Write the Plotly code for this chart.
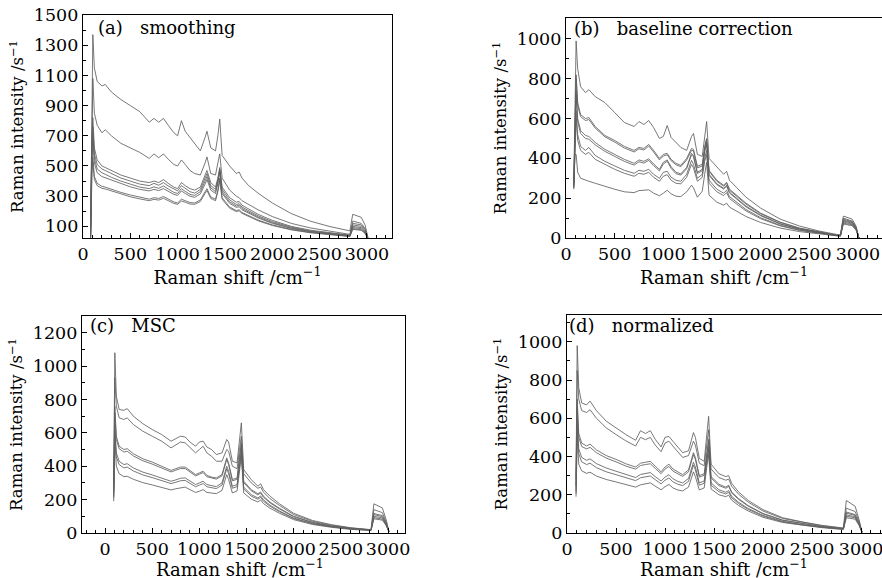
import plotly.graph_objects as go

# Raman shift grid shared by every spectrum (cm^-1)
shift = [80, 92, 104, 120, 150, 200, 235, 300, 400, 500,
         600, 700, 750, 800, 850, 900, 960, 1000, 1040, 1080,
         1130, 1180, 1240, 1290, 1310, 1350, 1400, 1425, 1445, 1470,
         1550, 1620, 1650, 1680, 1750, 1850, 2000, 2200, 2400, 2600,
         2780, 2820, 2850, 2880, 2940, 2980, 3010]

# (a) smoothing
smooth_1 = [40, 900, 1370, 1150, 1060, 1030, 1040, 990, 940, 900,
            860, 790, 815, 790, 815, 770, 720, 700, 800, 730,
            690, 650, 600, 690, 730, 620, 600, 700, 810, 570,
            500, 450, 460, 420, 370, 320, 255, 185, 135, 100,
            75, 70, 180, 175, 160, 110, 30]
smooth_2 = [35, 700, 1080, 850, 770, 720, 740, 700, 650, 620,
            590, 550, 580, 555, 580, 545, 510, 500, 540, 510,
            470, 450, 440, 520, 560, 450, 440, 520, 580, 420,
            340, 300, 290, 270, 245, 210, 165, 120, 90, 68,
            50, 47, 135, 130, 120, 85, 25]
smooth_3 = [30, 650, 820, 620, 540, 500, 490, 470, 440, 420,
            400, 390, 400, 390, 410, 385, 360, 350, 390, 370,
            350, 340, 360, 440, 470, 390, 360, 420, 490, 360,
            290, 260, 265, 240, 215, 180, 140, 100, 75, 58,
            45, 42, 120, 118, 110, 80, 25]
smooth_4 = [28, 600, 760, 580, 510, 480, 470, 450, 420, 400,
            380, 370, 385, 372, 390, 368, 345, 335, 370, 350,
            330, 320, 345, 420, 450, 370, 345, 410, 480, 345,
            275, 245, 250, 228, 205, 170, 132, 95, 70, 55,
            42, 40, 110, 108, 100, 72, 24]
smooth_5 = [27, 560, 720, 550, 480, 455, 445, 425, 400, 380,
            360, 350, 362, 352, 368, 348, 325, 318, 350, 332,
            312, 305, 330, 400, 430, 355, 330, 395, 470, 330,
            262, 235, 240, 218, 195, 162, 125, 90, 67, 52,
            40, 38, 100, 98, 92, 66, 23]
smooth_6 = [26, 520, 690, 520, 455, 430, 422, 405, 380, 362,
            345, 335, 345, 337, 350, 332, 312, 305, 335, 318,
            300, 292, 315, 380, 410, 340, 318, 385, 460, 318,
            252, 226, 230, 210, 188, 156, 120, 86, 64, 50,
            38, 36, 92, 90, 85, 62, 22]
smooth_7 = [25, 480, 560, 430, 385, 365, 360, 345, 325, 308,
            292, 280, 290, 285, 298, 282, 262, 255, 280, 270,
            258, 255, 275, 330, 350, 295, 280, 340, 420, 290,
            228, 205, 210, 192, 172, 142, 110, 80, 60, 47,
            36, 34, 85, 84, 78, 57, 21]
smooth_8 = [24, 450, 530, 410, 370, 352, 348, 335, 312, 296,
            282, 270, 279, 274, 286, 271, 252, 246, 268, 260,
            248, 246, 265, 318, 338, 285, 270, 330, 405, 280,
            220, 198, 203, 186, 166, 137, 106, 77, 58, 45,
            35, 33, 80, 79, 74, 54, 20]

# (b) baseline correction
base_1 = [280, 700, 990, 850, 760, 730, 745, 710, 680, 630,
          580, 560, 585, 570, 590, 555, 500, 510, 565, 505,
          480, 455, 440, 510, 525, 420, 410, 500, 585, 400,
          360, 320, 335, 290, 255, 205, 150, 95, 60, 35,
          18, 16, 110, 105, 95, 60, 0]
base_2 = [270, 600, 820, 680, 620, 600, 605, 560, 515, 490,
          460, 440, 455, 450, 470, 440, 400, 420, 425, 395,
          375, 365, 400, 450, 445, 360, 370, 460, 500, 340,
          290, 265, 280, 245, 215, 175, 125, 80, 50, 30,
          15, 14, 100, 95, 85, 55, 0]
base_3 = [265, 580, 800, 665, 610, 590, 595, 552, 508, 482,
          452, 432, 448, 442, 462, 432, 392, 412, 418, 388,
          368, 358, 392, 440, 438, 352, 362, 450, 495, 335,
          285, 260, 275, 240, 210, 170, 122, 78, 48, 29,
          14, 13, 95, 90, 82, 52, 0]
base_4 = [260, 540, 740, 600, 540, 515, 510, 480, 445, 420,
          395, 375, 392, 385, 398, 372, 345, 380, 392, 358,
          330, 322, 355, 425, 415, 330, 345, 440, 480, 320,
          272, 250, 265, 230, 200, 160, 115, 72, 45, 27,
          13, 12, 90, 86, 78, 50, 0]
base_5 = [255, 520, 720, 585, 525, 500, 496, 468, 435, 410,
          385, 366, 383, 376, 390, 364, 337, 372, 385, 350,
          323, 316, 348, 418, 408, 324, 338, 432, 475, 315,
          268, 246, 260, 226, 196, 156, 112, 70, 44, 26,
          13, 12, 85, 82, 75, 48, 0]
base_6 = [250, 480, 640, 520, 460, 440, 455, 415, 385, 362,
          340, 325, 340, 335, 345, 320, 300, 330, 335, 305,
          290, 285, 320, 390, 370, 300, 320, 400, 440, 290,
          245, 225, 240, 208, 180, 143, 102, 64, 40, 24,
          12, 11, 80, 77, 70, 45, 0]
base_7 = [245, 440, 600, 490, 440, 420, 430, 395, 368, 345,
          325, 310, 325, 320, 330, 305, 285, 310, 318, 290,
          275, 272, 305, 370, 352, 285, 305, 385, 420, 275,
          232, 213, 228, 198, 172, 136, 97, 61, 38, 23,
          12, 11, 75, 72, 66, 42, 0]
base_8 = [270, 420, 420, 330, 300, 290, 285, 275, 258, 245,
          232, 228, 238, 240, 242, 225, 212, 225, 240, 222,
          210, 208, 232, 265, 252, 205, 235, 320, 380, 215,
          180, 165, 175, 155, 135, 108, 78, 50, 32, 20,
          10, 9, 70, 68, 62, 40, 0]

# (c) MSC
msc_1 = [None, 300, 1080, 820, 740, 735, 745, 700, 655, 620,
         590, 550, 565, 580, 575, 545, 520, 545, 550, 515,
         500, 470, 480, 560, 545, 430, 420, 560, 660, 380,
         320, 280, 295, 260, 220, 175, 118, 75, 50, 32,
         22, 20, 175, 165, 150, 80, 10]
msc_2 = [None, 280, 930, 760, 690, 680, 690, 650, 610, 580,
         550, 510, 530, 545, 540, 510, 480, 500, 520, 480,
         460, 430, 430, 500, 490, 400, 385, 500, 580, 355,
         300, 268, 275, 245, 205, 165, 110, 70, 46, 30,
         21, 19, 140, 133, 122, 68, 10]
msc_3 = [None, 250, 760, 580, 520, 500, 505, 475, 445, 425,
         400, 375, 385, 395, 395, 375, 350, 360, 370, 345,
         335, 330, 350, 450, 420, 320, 330, 460, 540, 310,
         260, 235, 245, 220, 185, 148, 100, 64, 42, 28,
         20, 18, 118, 112, 105, 60, 8]
msc_4 = [None, 240, 720, 560, 505, 485, 490, 462, 433, 413,
         390, 366, 376, 386, 386, 366, 342, 352, 362, 337,
         328, 323, 342, 440, 410, 312, 322, 450, 530, 302,
         253, 229, 239, 214, 180, 144, 97, 62, 41, 27,
         19, 18, 110, 105, 98, 56, 8]
msc_5 = [None, 220, 640, 480, 430, 410, 415, 390, 365, 348,
         330, 310, 318, 328, 330, 312, 290, 300, 310, 290,
         282, 278, 300, 400, 370, 280, 290, 420, 500, 275,
         230, 210, 222, 198, 166, 132, 89, 57, 38, 25,
         18, 17, 100, 96, 90, 52, 7]
msc_6 = [None, 210, 600, 455, 410, 390, 395, 372, 348, 332,
         315, 296, 304, 313, 315, 298, 277, 287, 296, 277,
         270, 266, 287, 385, 356, 268, 278, 405, 480, 264,
         221, 202, 213, 190, 160, 127, 86, 55, 37, 24,
         17, 16, 92, 88, 83, 48, 7]
msc_7 = [None, 190, 560, 400, 355, 338, 340, 322, 302, 288,
         273, 258, 265, 272, 275, 260, 243, 250, 260, 243,
         238, 236, 255, 350, 320, 240, 252, 380, 460, 240,
         203, 186, 198, 176, 148, 118, 80, 51, 34, 22,
         16, 15, 85, 82, 77, 45, 6]

# (d) normalized
norm_1 = [None, 300, 980, 760, 680, 670, 690, 640, 585, 550,
          515, 485, 535, 520, 535, 490, 450, 500, 505, 480,
          450, 420, 430, 525, 500, 390, 375, 500, 610, 360,
          310, 295, 300, 260, 215, 170, 122, 80, 58, 40,
          28, 26, 170, 160, 140, 70, 5]
norm_2 = [None, 280, 850, 700, 640, 630, 645, 600, 550, 515,
          482, 455, 500, 488, 500, 460, 425, 470, 480, 455,
          425, 395, 405, 480, 460, 365, 352, 450, 540, 335,
          290, 276, 282, 245, 203, 161, 115, 76, 55, 38,
          27, 25, 130, 125, 112, 60, 5]
norm_3 = [None, 250, 700, 520, 470, 455, 465, 435, 405, 385,
          362, 345, 365, 370, 375, 350, 320, 345, 360, 335,
          318, 305, 330, 420, 395, 300, 310, 420, 490, 295,
          255, 240, 250, 215, 180, 143, 102, 68, 49, 34,
          24, 22, 110, 106, 96, 52, 4]
norm_4 = [None, 240, 660, 500, 452, 440, 448, 420, 392, 372,
          350, 334, 353, 358, 362, 338, 310, 334, 348, 324,
          308, 296, 320, 410, 385, 292, 302, 410, 478, 288,
          248, 234, 244, 210, 176, 140, 100, 66, 48, 33,
          23, 22, 104, 100, 92, 50, 4]
norm_5 = [None, 220, 600, 440, 395, 380, 388, 363, 340, 323,
          305, 290, 306, 312, 316, 295, 272, 292, 305, 284,
          270, 262, 285, 370, 345, 262, 272, 380, 450, 262,
          226, 213, 222, 192, 161, 128, 92, 61, 44, 31,
          22, 21, 95, 92, 85, 46, 4]
norm_6 = [None, 205, 560, 415, 372, 358, 365, 342, 320, 305,
          288, 274, 289, 295, 298, 279, 257, 276, 288, 268,
          255, 248, 270, 355, 330, 250, 260, 365, 435, 250,
          216, 204, 213, 184, 154, 123, 88, 58, 42, 30,
          21, 20, 88, 85, 79, 43, 3]
norm_7 = [None, 190, 500, 360, 325, 312, 318, 298, 280, 267,
          252, 240, 252, 258, 262, 245, 226, 242, 254, 236,
          225, 220, 240, 320, 295, 225, 236, 340, 410, 230,
          200, 190, 198, 172, 144, 115, 82, 55, 40, 28,
          20, 19, 80, 78, 72, 40, 3]

panel_labels = ["(a)   smoothing", "(b)   baseline correction", "(c)   MSC", "(d)   normalized"]

panels = [
    [smooth_1, smooth_2, smooth_3, smooth_4, smooth_5, smooth_6, smooth_7, smooth_8],
    [base_1, base_2, base_3, base_4, base_5, base_6, base_7, base_8],
    [msc_1, msc_2, msc_3, msc_4, msc_5, msc_6, msc_7],
    [norm_1, norm_2, norm_3, norm_4, norm_5, norm_6, norm_7],
]

W, H = 882, 578
FONT = "DejaVu Serif"
XTITLE = "Raman shift /cm<sup>−1</sup>"

# plot boxes in pixels: left, top, right, bottom
boxes = [(83, 15, 392, 238), (566, 18, 882, 238), (82, 316, 405, 533), (567, 315, 882, 533)]
xranges = [[0, 3265], [0, 3247], [-244, 3180], [0, 3214]]
yranges = [[23, 1500], [0, 1105], [0, 1300], [0, 1140]]
ytick0 = [100, 0, 0, 0]
label_pos = [(96, 27), (572, 29), (88, 325), (567, 325)]
# bottom row x titles sit right at the lower edge, as in the scan
bottom_title = [None, None, (240, 568), (724, 568)]

fig = go.Figure()

for i, series in enumerate(panels):
    n = "" if i == 0 else str(i + 1)
    for s in series:
        fig.add_trace(go.Scatter(x=shift, y=s, mode="lines", xaxis="x" + n, yaxis="y" + n,
                                 line=dict(color="#606060", width=0.85), showlegend=False,
                                 hoverinfo="skip"))

    l, t, r, b = boxes[i]
    common = dict(showline=True, linecolor="black", linewidth=1.4, mirror=True,
                  ticks="inside", ticklen=5, tickcolor="black", showgrid=False, zeroline=False,
                  automargin=False, tickangle=0, ticklabeloverflow="allow",
                  tickfont=dict(family=FONT, size=17.5, color="black"))
    xtitle = dict(text=XTITLE if bottom_title[i] is None else "", standoff=6,
                  font=dict(family=FONT, size=18, color="black"))
    fig.layout["xaxis" + n] = dict(
        domain=[l / W, r / W], anchor="y" + n, range=xranges[i],
        tick0=0, dtick=500,
        minor=dict(ticks="inside", dtick=100, tick0=0, ticklen=3, tickcolor="black"),
        title=xtitle, **common)
    fig.layout["yaxis" + n] = dict(
        domain=[1 - b / H, 1 - t / H], anchor="x" + n, range=yranges[i],
        tick0=ytick0[i], dtick=200,
        minor=dict(ticks="inside", dtick=100, tick0=0, ticklen=3, tickcolor="black"),
        title=dict(text="Raman intensity /s<sup>−1</sup>", standoff=5,
                   font=dict(family=FONT, size=16.5, color="black")),
        **common)

    if bottom_title[i] is not None:
        tx, ty = bottom_title[i]
        fig.add_annotation(x=tx / W, y=1 - ty / H, xref="paper", yref="paper",
                           xanchor="center", yanchor="middle", showarrow=False,
                           text=XTITLE, font=dict(family=FONT, size=18, color="black"))

    lx, ly = label_pos[i]
    fig.add_annotation(x=lx / W, y=1 - ly / H, xref="paper", yref="paper",
                       xanchor="left", yanchor="middle", showarrow=False,
                       text=panel_labels[i], font=dict(family=FONT, size=18, color="black"))

fig.update_layout(width=W, height=H, margin=dict(l=0, r=0, t=0, b=0),
                  paper_bgcolor="white", plot_bgcolor="white")

# the page body has a default 8 px margin; drop it so the figure sits at the corner
fig.write_html("out.html", config={"displayModeBar": False},
               post_script="document.body.style.margin='0';document.body.style.overflow='hidden';")
